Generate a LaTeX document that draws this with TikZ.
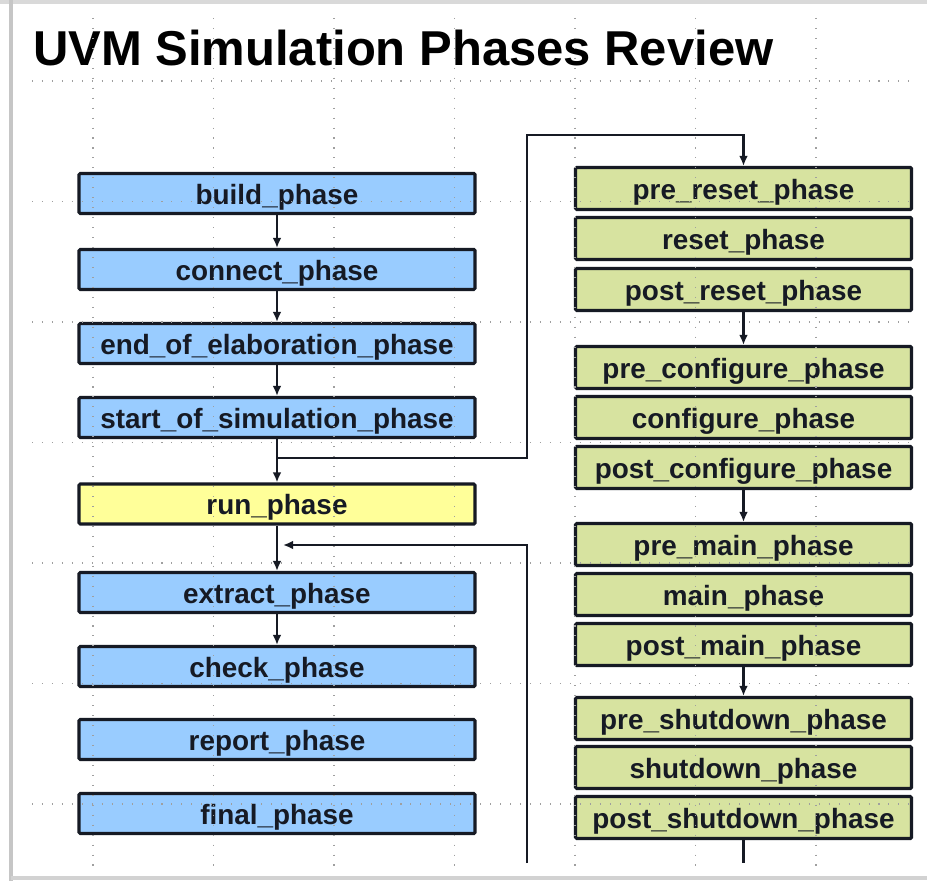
\documentclass[tikz,border=0pt]{standalone}
\usepackage{fontspec}
\setmainfont{Liberation Sans}
\usepackage{xcolor}
\usepackage{tikz}
\usetikzlibrary{arrows.meta}
\definecolor{phaseBlue}{RGB}{153,204,255}
\definecolor{phaseYellow}{RGB}{255,255,153}
\definecolor{phaseGreen}{RGB}{215,227,160}
\definecolor{phaseInk}{RGB}{22,26,36}
\newcommand{\slideTitle}{UVM Simulation Phases Review}
\newcommand{\leftPhases}{build/193.5/build\_phase, connect/269.5/connect\_phase, endElab/343.5/end\_of\_elaboration\_phase, startSim/417.5/start\_of\_simulation\_phase, extract/592.5/extract\_phase, check/666.5/check\_phase, report/739.5/report\_phase, final/813.5/final\_phase}
\newcommand{\rightPhases}{preReset/188.5/pre\_reset\_phase, reset/238.5/reset\_phase, postReset/289.5/post\_reset\_phase, preConfigure/367.5/pre\_configure\_phase, configure/417.5/configure\_phase, postConfigure/467.5/post\_configure\_phase, preMain/544.5/pre\_main\_phase, main/594.5/main\_phase, postMain/644.5/post\_main\_phase, preShutdown/718.5/pre\_shutdown\_phase, shutdown/767.5/shutdown\_phase, postShutdown/817.5/post\_shutdown\_phase}
\newcommand{\leftColumnX}{277}
\newcommand{\rightColumnX}{743.5}
\newcommand{\busX}{527}
\newcommand{\gridStep}{120.5}

\begin{document}
\begin{tikzpicture}[x=0.03cm, y=-0.03cm,
	phasebox/.style={draw=phaseInk, line width=2.6pt, rounded corners=1pt, text=phaseInk, font=\fontsize{23.8}{28}\selectfont\bfseries, inner sep=0pt, text height=0.64cm, text depth=0pt},
	leftbox/.style={phasebox, fill=phaseBlue, minimum width=11.88cm, minimum height=1.2cm},
	rightbox/.style={phasebox, fill=phaseGreen, minimum width=10.08cm, minimum height=1.26cm},
	flow/.style={draw=phaseInk, line width=2.2pt},
	flowarrow/.style={flow, -{Latex[length=3mm,width=2.6mm]}},
	gridline/.style={gray!75, line width=0.9pt, dash pattern=on 0.9pt off 7.6pt}]
	
	\useasboundingbox (0,0) rectangle (927,881);
	\fill[white] (0,0) rectangle (927,881);
	\draw[gray!30, line width=3pt] (0,2) -- (927,2);
	\draw[gray!45, line width=3pt] (11,0) -- (11,881);
	\draw[gray!35, line width=3pt] (11,878) -- (927,878);
	
	\node[anchor=base west, text=black, font=\fontsize{41.8}{50}\selectfont\bfseries] (title) at (29,66) {\slideTitle};
	
	% left column
	\foreach \nodeName/\yPos/\name in \leftPhases
	{
		\node[leftbox] (\nodeName) at (\leftColumnX,\yPos) {\name};
	}
	\node[leftbox, fill=phaseYellow] (run) at (\leftColumnX,504) {run\_phase};
	
	% right column
	\foreach \nodeName/\yPos/\name in \rightPhases
	{
		\node[rightbox] (\nodeName) at (\rightColumnX,\yPos) {\name};
	}
	
	\coordinate (runFork) at (\leftColumnX,458);
	\coordinate (busTop) at (\busX,135);
	\coordinate (busBottom) at (\busX,863);
	\coordinate (loopIn) at (283,545);
	\coordinate (rightTail) at (\rightColumnX,863);
	
	\draw[flowarrow] (build) -- (connect);
	\draw[flowarrow] (connect) -- (endElab);
	\draw[flowarrow] (endElab) -- (startSim);
	\draw[flowarrow] (startSim) -- (run);
	\draw[flowarrow] (runFork) -| (busTop) -| (preReset.north);
	\draw[flowarrow] (run) -- (extract);
	\draw[flowarrow] (busBottom) |- (loopIn);
	\draw[flowarrow] (extract) -- (check);
	
	\draw[flowarrow] (postReset) -- (preConfigure);
	\draw[flowarrow] (postConfigure) -- (preMain);
	\draw[flowarrow] (postMain) -- (preShutdown);
	\draw[flow] (postShutdown.south) -- (rightTail);
	
	% slide grid
	\foreach \k in {0,...,6}
	{
		\draw[gridline] (32,81+\gridStep*\k) -- (918,81+\gridStep*\k);
		\draw[gridline] (93+\gridStep*\k,18) -- (93+\gridStep*\k,866);
	}
\end{tikzpicture}
\end{document}
